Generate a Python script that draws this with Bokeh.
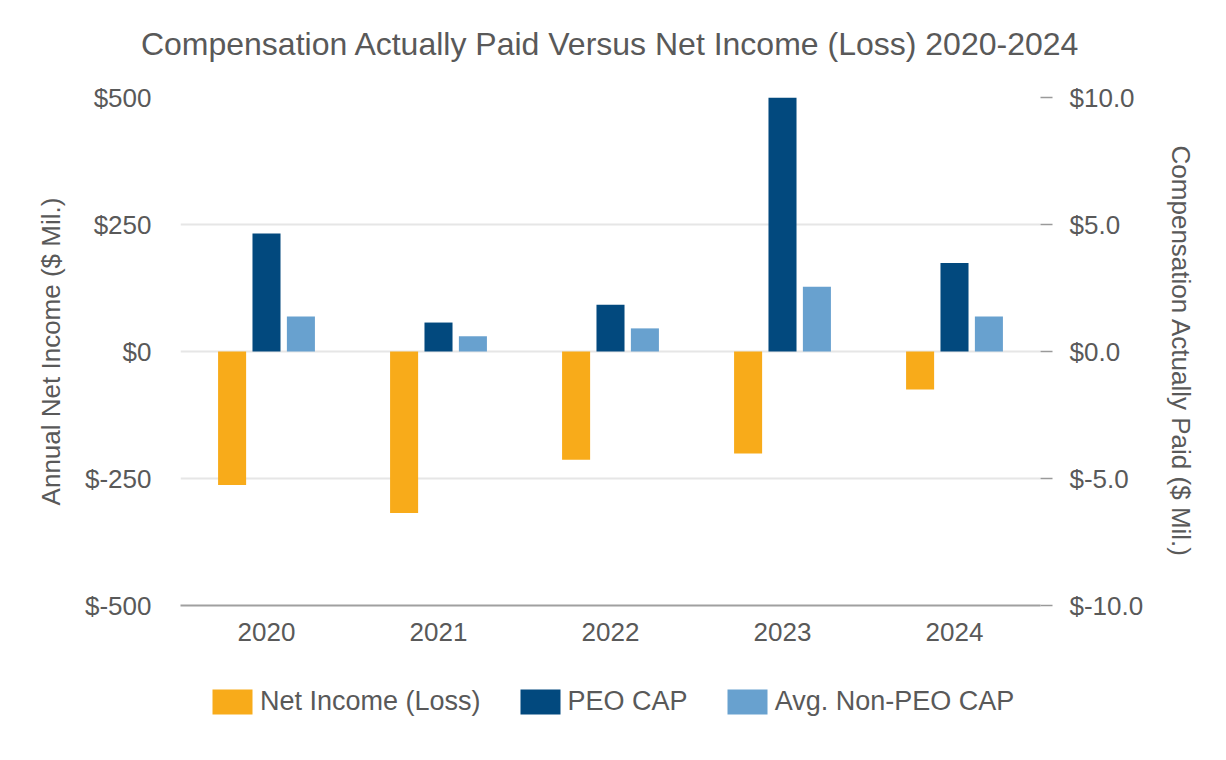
from bokeh.plotting import figure
from bokeh.layouts import column
from bokeh.models import (FactorRange, Range1d, LinearAxis, FixedTicker, PrintfTickFormatter,
                          Legend, LegendItem, ColumnDataSource, Title)
from bokeh.transform import dodge
from bokeh.embed import file_html
from bokeh.resources import INLINE

years = ["2020", "2021", "2022", "2023", "2024"]
net_income = [-263, -318, -213, -201, -75]
peo_cap = [4.65, 1.14, 1.84, 10.0, 3.48]
non_peo_cap = [1.38, 0.60, 0.91, 2.55, 1.38]
series_labels = ["Net Income (Loss)", "PEO CAP", "Avg. Non-PEO CAP"]
title_text = "Compensation Actually Paid Versus Net Income (Loss) 2020-2024"

left_ticks = [-500, -250, 0, 250, 500]
right_ticks = [-10, -5, 0, 5, 10]

ORANGE = "#F8AB1A"
DARK = "#02497E"
LIGHT = "#68A1CF"
TXT = "#595959"
FONT = "Liberation Sans"

src = ColumnDataSource(dict(year=years, ni=net_income, peo=peo_cap, npeo=non_peo_cap))

W, H1, H2 = 1210, 660, 84
p = figure(width=W, height=H1, x_range=FactorRange(*years), y_range=Range1d(-500, 500),
           output_backend="svg", toolbar_location=None,
           min_border_left=180, min_border_right=W - 1040, min_border_top=97,
           min_border_bottom=H1 - 605)
p.extra_y_ranges = {"cap": Range1d(-10, 10)}
p.outline_line_color = None
p.background_fill_color = "white"
p.title.text = ""

# spacer between frame and title, then the title itself
p.add_layout(Title(text=" ", text_font_size="1px", standoff=28), "above")
p.add_layout(Title(text=title_text, text_font=FONT, text_font_size="32px",
                   text_font_style="normal", text_color=TXT, align="center", standoff=10),
             "above")

bw = 0.163
p.vbar(x=dodge("year", -0.2, range=p.x_range), top="ni", bottom=0, width=bw, source=src,
       fill_color=ORANGE, line_color=None)
p.vbar(x=dodge("year", 0.0, range=p.x_range), top="peo", bottom=0, width=bw, source=src,
       fill_color=DARK, line_color=None, y_range_name="cap")
p.vbar(x=dodge("year", 0.2, range=p.x_range), top="npeo", bottom=0, width=bw, source=src,
       fill_color=LIGHT, line_color=None, y_range_name="cap")

# left axis
ya = p.yaxis[0]
ya.ticker = FixedTicker(ticks=left_ticks)
ya.formatter = PrintfTickFormatter(format="$%d")
ya.axis_line_color = None
ya.major_tick_line_color = None
ya.minor_tick_line_color = None
ya.major_tick_out = 0
ya.major_label_standoff = 29
ya.major_label_text_font = FONT
ya.major_label_text_font_size = "26px"
ya.major_label_text_color = TXT
ya.axis_label = "Annual Net Income ($ Mil.)"
ya.axis_label_text_font = FONT
ya.axis_label_text_font_size = "26px"
ya.axis_label_text_font_style = "normal"
ya.axis_label_text_color = TXT
ya.axis_label_standoff = 16

# right axis
ra = LinearAxis(y_range_name="cap")
ra.ticker = FixedTicker(ticks=right_ticks)
ra.formatter = PrintfTickFormatter(format="$%.1f")
ra.axis_line_color = None
ra.major_tick_line_color = "#9a9a9a"
ra.major_tick_line_width = 1.5
ra.major_tick_in = 0
ra.major_tick_out = 12
ra.minor_tick_line_color = None
ra.major_label_standoff = 17
ra.major_label_text_font = FONT
ra.major_label_text_font_size = "26px"
ra.major_label_text_color = TXT
ra.axis_label = "Compensation Actually Paid ($ Mil.)"
ra.axis_label_text_font = FONT
ra.axis_label_text_font_size = "26px"
ra.axis_label_text_font_style = "normal"
ra.axis_label_text_color = TXT
ra.axis_label_standoff = 20
p.add_layout(ra, "right")

# x axis
xa = p.xaxis[0]
xa.axis_line_color = "#a0a0a0"
xa.axis_line_width = 2
xa.major_tick_line_color = None
xa.minor_tick_line_color = None
xa.major_tick_out = 0
xa.major_label_standoff = 17
xa.major_label_text_font = FONT
xa.major_label_text_font_size = "26px"
xa.major_label_text_color = TXT

p.xgrid.grid_line_color = None
p.ygrid.grid_line_color = "#e6e6e6"
p.ygrid.grid_line_width = 2
p.ygrid.ticker = FixedTicker(ticks=left_ticks)

# legend strip: a separate figure (same series, drawn outside its visible range)
lp = figure(width=W, height=H2, output_backend="svg", toolbar_location=None,
            min_border=0, x_range=p.x_range, y_range=Range1d(1000, 2000))
lp.outline_line_color = None
lp.axis.visible = False
lp.grid.grid_line_color = None
items = []
for lab, col, field in zip(series_labels, [ORANGE, DARK, LIGHT], ["ni", "peo", "npeo"]):
    r = lp.vbar(x="year", top=field, bottom=0, width=bw, source=src, fill_color=col,
                line_color=None)
    items.append(LegendItem(label=lab, renderers=[r]))

legend = Legend(items=items, orientation="horizontal", location=(27, 27))
legend.glyph_width = 50
legend.glyph_height = 31
legend.label_standoff = 3
legend.spacing = 34
legend.padding = 0
legend.margin = 0
legend.border_line_color = None
legend.background_fill_alpha = 0
legend.label_text_font = FONT
legend.label_text_font_size = "27px"
legend.label_text_color = TXT
legend.label_height = 25
lp.add_layout(legend, "center")

layout = column(p, lp, spacing=0)
open("out.html", "w").write(file_html(layout, INLINE))
